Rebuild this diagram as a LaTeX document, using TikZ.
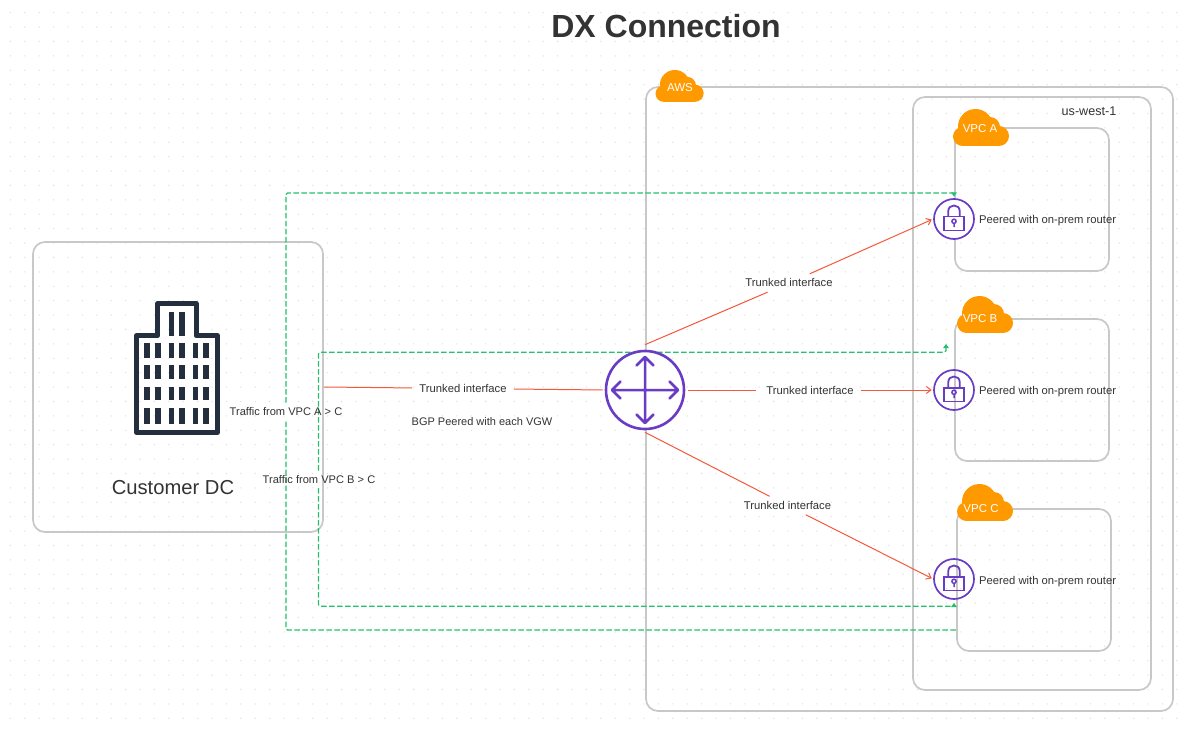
\documentclass[tikz,border=0pt]{standalone}
\usepackage{fontspec}
\setmainfont{Liberation Sans}
\usetikzlibrary{arrows.meta,calc}
\definecolor{boxgray}{HTML}{C8C8C8}
\definecolor{redln}{HTML}{F5583A}
\definecolor{greenln}{HTML}{25C06C}
\definecolor{awsorange}{HTML}{FF9900}
\definecolor{iconpurple}{HTML}{693CC5}
\definecolor{navy}{HTML}{232F3E}
\definecolor{ink}{HTML}{333333}
\definecolor{griddot}{HTML}{D9D9D9}
\tikzset{
  graybox/.style={draw=boxgray,line width=1.7pt,rounded corners=12pt,inner sep=0pt,minimum width=#1},
  redline/.style={draw=redln,line width=1pt},
  redarrow/.style={redline,-{Straight Barb[length=4.5pt,width=7pt]},shorten >=1.5pt},
  greenline/.style={draw=greenln,line width=1.2pt,dash pattern=on 5.5pt off 2.5pt,rounded corners=1.5pt},
  greenarrow/.style={greenline,-{Triangle[length=4pt,width=5.5pt]}},
  lbl/.style={text=ink,font=\fontsize{11.25}{13}\selectfont,inner sep=0pt,text height=8pt,text depth=0pt},
  trunk/.style={lbl,inner xsep=7pt,minimum height=#1},
  iconring/.style={circle,draw=iconpurple,line width=1.7pt,inner sep=0pt,minimum size=#1},
  cloudtext/.style={text=white,font=\fontsize{11.5}{13}\selectfont,inner sep=0pt},
  cloud/.pic={
    \fill[awsorange] (22.5,17.5) circle[radius=17.5];
    \fill[awsorange] (37,18) circle[radius=10];
    \fill[awsorange] (46,27) circle[radius=10];
    \fill[awsorange] (9.5,27.5) circle[radius=9.5];
    \fill[awsorange] (9.5,20) rectangle (46,37);
  },
  padlock/.pic={
    \draw[iconpurple,line width=1.8pt] (-9.8,-2.4) rectangle (9.8,11.5);
    \draw[iconpurple,line width=1.8pt] (-5.7,-2.4) -- (-5.7,-8) .. controls (-5.7,-15.3) and (5.7,-15.3) .. (5.7,-8) -- (5.7,-2.4);
    \draw[iconpurple,line width=1.5pt] (0,2.3) circle[radius=2.1] (0,4.4) -- (0,8.2);
  }
}
\begin{document}
\begin{tikzpicture}[x=1pt,y=-1pt]
\useasboundingbox (0,0) rectangle (1189,730);
\fill[white] (0,0) rectangle (1189,730);
% dotted canvas
\foreach \i in {0,...,81}{
  \foreach \j in {0,...,50}{
    \fill[griddot] ({10.4+14.4*\i},{12.7+14.4*\j}) circle[radius=0.65];
  }
}
% containers
\node[graybox=527pt,minimum height=624pt] (aws) at (909.5,399) {};
\node[graybox=238pt,minimum height=593pt] (region) at (1032,393.5) {};
\node[graybox=154pt,minimum height=143pt] (vpcA) at (1032,199.5) {};
\node[graybox=154pt,minimum height=142pt] (vpcB) at (1032,390) {};
\node[graybox=154pt,minimum height=142pt] (vpcC) at (1034,580) {};
\node[graybox=290pt,minimum height=290pt] (dc) at (178,387) {};
% clouds
\pic[scale=0.86] at (655.5,70) {cloud};
\pic at (953,109) {cloud};
\pic at (957,296) {cloud};
\pic at (957,484) {cloud};
\node[cloudtext] (awsl) at (680,87.5) {AWS};
\node[cloudtext] (cloudA) at (980,129) {VPC A};
\node[cloudtext] (cloudB) at (980,319) {VPC B};
\node[cloudtext] (cloudC) at (981,509) {VPC C};
\node[lbl,font=\fontsize{12.6}{14}\selectfont] (regionl) at (1089,112) {us-west-1};
% title and other text
\node[text=ink,font=\bfseries\fontsize{32}{36}\selectfont,inner sep=0pt] (title) at (666,26) {DX Connection};
\node[text=ink,font=\fontsize{20.2}{23}\selectfont,inner sep=0pt] (dcl) at (173,488) {Customer DC};
\node[lbl,font=\fontsize{11}{13}\selectfont] (bgp) at (482,421) {BGP Peered with each VGW};
% building
\draw[navy,line width=5pt,line join=round] (136.7,335.7) -- (157.7,335.7) -- (157.7,303.5) -- (196,303.5) -- (196,335.7) -- (217.3,335.7) -- (217.3,432.5) -- (136.7,432.5) -- cycle;
\foreach \xa/\xb in {168.7/174,179.3/184.7}{\fill[navy] (\xa,311.7) rectangle (\xb,335.7);}
\foreach \xa/\xb in {144.3/150,155.3/160.7,168.7/174,179.3/184.7,192.7/198,203.3/208.7}{
  \foreach \ya/\yb in {343.3/357.7,365.3/378.7,386.7/400,408.3/424}{
    \fill[navy] (\xa,\ya) rectangle (\xb,\yb);
  }
}
% green routes
\coordinate (gapAlow) at (286,421.5);
\coordinate (gapAup) at (286,402.5);
\coordinate (gapBup) at (318.5,470.5);
\coordinate (gapBlow) at (318.5,488);
\coordinate (cTap) at (957,630);
\coordinate (aTurn) at (954,193);
\coordinate (aEnd) at (954,196.5);
\coordinate (bTurn) at (946,352.3);
\coordinate (bEnd) at (946,344);
\coordinate (cTurn) at (954,606.2);
\coordinate (cEnd) at (954,603);
\draw[greenline] (gapAlow) |- (cTap);
\draw[greenarrow] (gapAup) |- (aTurn) -- (aEnd);
\draw[greenarrow] (gapBup) |- (bTurn) -- (bEnd);
\draw[greenarrow] (gapBlow) |- (cTurn) -- (cEnd);
\node[lbl,font=\fontsize{11.1}{13}\selectfont] (trafA) at (286,411.5) {Traffic from VPC A > C};
\node[lbl,font=\fontsize{11.1}{13}\selectfont] (trafB) at (319,479.5) {Traffic from VPC B > C};
% router
\node[iconring=78pt,line width=2.6pt,fill=white] (router) at (645,390) {};
\draw[iconpurple,line width=2.5pt,line cap=round,line join=round]
  (645,357) -- (645,423) (612,390) -- (678,390)
  (636.5,365.5) -- (645,357) -- (653.5,365.5)
  (636.5,414.5) -- (645,423) -- (653.5,414.5)
  (620.5,381.5) -- (612,390) -- (620.5,398.5)
  (669.5,381.5) -- (678,390) -- (669.5,398.5);
% locks
\node[iconring=40pt,fill=white] (lockA) at (954,219) {};
\node[iconring=40pt] (lockB) at (954,390) {};
\node[iconring=40pt] (lockC) at (954,579) {};
\pic at (954,219) {padlock};
\pic at (954,390) {padlock};
\pic at (954,579) {padlock};
\node[lbl,anchor=west] (peerA) at (979,219.5) {Peered with on-prem router};
\node[lbl,anchor=west] (peerB) at (979,390) {Peered with on-prem router};
\node[lbl,anchor=west] (peerC) at (979,580) {Peered with on-prem router};
% trunks
\node[trunk=10pt] (t0) at (463,388.5) {Trunked interface};
\node[trunk=18pt] (t1) at (789,283) {Trunked interface};
\node[trunk=10pt] (t2) at (810,390) {Trunked interface};
\node[trunk=18pt] (t3) at (787.5,505.5) {Trunked interface};
\draw[redline] (dc.east) -- (t0);
\draw[redline,shorten >=2pt] (t0) -- (router.west);
\draw[redline] ([yshift=5pt]router.north) -- (t1);
\draw[redarrow] (t1) -- (lockA.west);
\draw[redline,shorten <=3pt,shorten >=3pt] (router.east) -- (t2);
\draw[redarrow] (t2) -- (lockB.west);
\draw[redline] ([yshift=-2pt]router.south) -- (t3);
\draw[redarrow] (t3) -- (lockC.west);
\end{tikzpicture}
\end{document}
